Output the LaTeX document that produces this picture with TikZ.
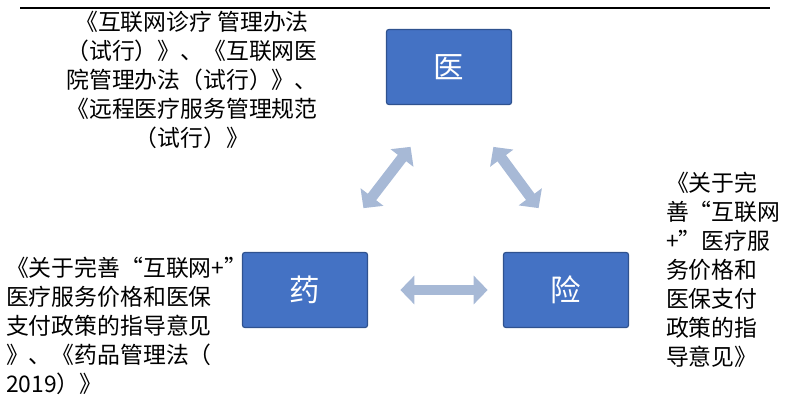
\documentclass[tikz,border=0pt]{standalone}
\usepackage{fontspec}
\setmainfont{Noto Sans CJK SC}
\usetikzlibrary{arrows.meta,positioning}
\definecolor{boxblue}{HTML}{4472C4}
\definecolor{boxline}{HTML}{2F528F}
\definecolor{arrowgray}{HTML}{A7B9D6}
\tikzset{
  sidebox/.style={draw=boxline,line width=1pt,fill=boxblue,rounded corners=2pt,text=white,minimum width=3.75cm,minimum height=2.25cm,font=\fontsize{26}{30}\selectfont},
  linkarrow/.style={arrowgray,line width=9pt,{Triangle[length=12pt,width=24pt]}-{Triangle[length=12pt,width=24pt]},shorten <=2pt,shorten >=2pt},
  lawtext/.style={align=center,font=\fontsize{19.5}{24.7}\selectfont}
}
\begin{document}
\begin{tikzpicture}[x=0.03cm,y=-0.03cm]
\useasboundingbox (0,0) rectangle (800,411);
% top rule
\draw[line width=1pt] (20,8) -- (770,8);
% three boxes
\node[sidebox] (yi) at (449,67) {医};
\node[sidebox] (yao) at (305,290) {药};
\node[sidebox] (xian) at (566,290) {险};
% links
\coordinate (a1) at (362,210); \coordinate (a2) at (412,145);
\coordinate (b1) at (492,145); \coordinate (b2) at (540,210);
\coordinate (c1) at (398,290); \coordinate (c2) at (490,290);
\draw[linkarrow] (a1) -- (a2);
\draw[linkarrow] (b1) -- (b2);
\draw[linkarrow] (c1) -- (c2);
% policy texts
\node[lawtext] (yitext) at (192,80) {《互联网诊疗 管理办法\\（试行）》、《互联网医\\院管理办法（试行）》、\\《远程医疗服务管理规范\\（试行）》};
\node[lawtext,align=left,anchor=west] (xiantext) at (662,270) {《关于完\\善“互联网\\+”医疗服\\务价格和\\医保支付\\政策的指\\导意见》};
\node[lawtext,align=left,anchor=west] (yaotext) at (2,326) {《关于完善“互联网+”\\医疗服务价格和医保\\支付政策的指导意见\\》、《药品管理法（\\2019）》};
\end{tikzpicture}
\end{document}
